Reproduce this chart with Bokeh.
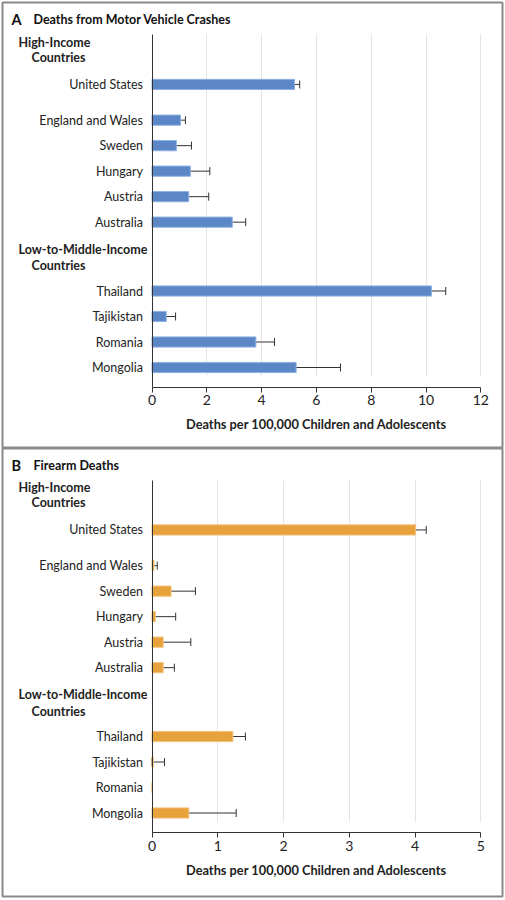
from bokeh.plotting import figure
from bokeh.models import ColumnDataSource, Whisker, TeeHead, FixedTicker, Range1d
from bokeh.core.properties import value
from bokeh.layouts import column
from bokeh.embed import file_html
from bokeh.resources import INLINE

countries = ["United States", "England and Wales", "Sweden", "Hungary", "Austria",
             "Australia", "Thailand", "Tajikistan", "Romania", "Mongolia"]
row_pos = [11.1, 9.7, 8.7, 7.7, 6.7, 5.7, 3.0, 2.0, 1.0, 0.0]

mv_rate = [5.20, 1.04, 0.89, 1.40, 1.34, 2.93, 10.20, 0.52, 3.79, 5.26]
mv_lo = [5.03, 0.86, 0.53, 0.94, 0.86, 2.52, 9.71, 0.33, 3.23, 4.04]
mv_hi = [5.39, 1.22, 1.44, 2.11, 2.07, 3.42, 10.72, 0.86, 4.47, 6.88]

fa_rate = [4.01, 0.03, 0.29, 0.05, 0.17, 0.17, 1.23, 0.02, 0.0, 0.56]
fa_lo = [3.87, 0.01, 0.13, 0.01, 0.04, 0.08, 1.07, 0.0, None, 0.22]
fa_hi = [4.17, 0.08, 0.66, 0.36, 0.59, 0.34, 1.42, 0.19, None, 1.28]

mv_ticks = [0, 2, 4, 6, 8, 10, 12]
fa_ticks = [0, 1, 2, 3, 4, 5]

header_text = ["High-Income", "Countries", "Low-to-Middle-Income", "Countries"]
header_pos = [12.75, 12.16, 4.63, 4.0]
header_indent = [0, 13, 0, 13]

FONT = "Lato"
TXT = "#222222"
W = 505
ROW_PX = 25.5          # pixels per row unit
AX0_PX = 151.5         # x = 0 position (page px)
AX1_PX = 480.3         # x = max tick position (page px)
FR_L, FR_R = 2, 502    # frame (border) left/right in page px
Y_BOTTOM = -0.77
Y_TOP = 13.05
BORDER = "#8a8a8a"


def make_panel(letter, title, rate, lo, hi, ticks, fill, edge,
               canvas_top, height, mb_top, mb_bottom, row0_px):
    xmax = ticks[-1]
    ppu = (AX1_PX - AX0_PX) / xmax
    x0 = (FR_L - AX0_PX) / ppu
    x1 = (FR_R - AX0_PX) / ppu
    ftop = canvas_top + mb_top
    fbot = canvas_top + height - mb_bottom
    y1 = (row0_px - ftop) / ROW_PX
    y0 = (row0_px - fbot) / ROW_PX

    p = figure(width=W, height=height, output_backend="svg", toolbar_location=None,
               x_range=Range1d(x0, x1), y_range=Range1d(y0, y1),
               min_border_left=FR_L, min_border_right=W - FR_R,
               min_border_top=mb_top, min_border_bottom=mb_bottom)
    p.outline_line_color = BORDER
    p.outline_line_width = 2
    p.background_fill_color = "white"
    p.border_fill_color = "white"

    p.ygrid.grid_line_color = None
    g = p.xgrid[0]
    g.ticker = FixedTicker(ticks=ticks[1:])
    g.grid_line_color = "#e4e4e4"
    g.bounds = (0, xmax)
    g.cross_bounds = (Y_BOTTOM + 0.43, Y_TOP)

    xa = p.xaxis[0]
    xa.fixed_location = Y_BOTTOM
    xa.bounds = (0, xmax)
    xa.ticker = FixedTicker(ticks=ticks)
    xa.minor_tick_line_color = None
    xa.major_tick_out = 5
    xa.major_tick_in = 0
    xa.axis_line_color = "#333333"
    xa.major_tick_line_color = "#333333"
    xa.major_label_text_font = FONT
    xa.major_label_text_font_size = "14px"
    xa.major_label_text_color = TXT
    xa.major_label_standoff = 3

    ya = p.yaxis[0]
    ya.fixed_location = 0
    ya.bounds = (Y_BOTTOM, Y_TOP)
    ya.ticker = FixedTicker(ticks=row_pos)
    ya.major_label_overrides = {pos: name for pos, name in zip(row_pos, countries)}
    ya.major_tick_line_color = None
    ya.minor_tick_line_color = None
    ya.axis_line_color = "#333333"
    ya.major_label_standoff = 3
    ya.major_label_text_font = FONT
    ya.major_label_text_font_size = "12.5px"
    ya.major_label_text_color = TXT

    src = ColumnDataSource(dict(y=row_pos, right=rate))
    p.hbar(y="y", left=0, right="right", height=0.4, source=src,
           fill_color=fill, line_color=edge, line_width=1)

    ey, elo, ehi = [], [], []
    for yy, a, b in zip(row_pos, lo, hi):
        if a is not None and b is not None:
            ey.append(yy); elo.append(a); ehi.append(b)
    esrc = ColumnDataSource(dict(y=ey, lo=elo, hi=ehi))
    w = Whisker(base="y", lower="lo", upper="hi", dimension="width", source=esrc,
                line_color="#333333", line_width=1,
                lower_head=TeeHead(size=8, line_color="#333333", line_width=1),
                upper_head=TeeHead(size=8, line_color="#333333", line_width=1))
    p.add_layout(w)

    # group headers (left of the axis)
    for txt, yy, ind in zip(header_text, header_pos, header_indent):
        p.text(x=[0], y=[yy], text=[txt], x_offset=-133.5 + ind,
               text_font=value(FONT), text_font_size="12.5px", text_font_style="bold",
               text_color=TXT, text_baseline="middle", text_align="left")

    # panel title
    ty = Y_TOP + 15 / ROW_PX
    p.text(x=[0], y=[ty], text=[letter], x_offset=-140.5,
           text_font=value(FONT), text_font_size="14.5px", text_font_style="bold",
           text_color="#111111", text_baseline="middle", text_align="left")
    p.text(x=[0], y=[ty], text=[title], x_offset=-118.5,
           text_font=value(FONT), text_font_size="12.5px", text_font_style="bold",
           text_color="#111111", text_baseline="middle", text_align="left")

    # x-axis title, centred under the tick span
    ay = Y_BOTTOM - 37 / ROW_PX
    p.text(x=[(ticks[0] + ticks[-1]) / 2], y=[ay],
           text=["Deaths per 100,000 Children and Adolescents"],
           text_font=value(FONT), text_font_size="12.8px", text_font_style="bold",
           text_color=TXT, text_baseline="middle", text_align="center")
    return p


pa = make_panel("A", "Deaths from Motor Vehicle Crashes", mv_rate, mv_lo, mv_hi, mv_ticks,
                "#5b87c6", "#8fb1e2", 0, 448, 2, 0, 367)
pb = make_panel("B", "Firearm Deaths", fa_rate, fa_lo, fa_hi, fa_ticks,
                "#e8a23c", "#f2c27e", 448, 452, 0, 4, 812.5)

layout = column(pa, pb, spacing=0)
open("out.html", "w").write(file_html(layout, INLINE))
